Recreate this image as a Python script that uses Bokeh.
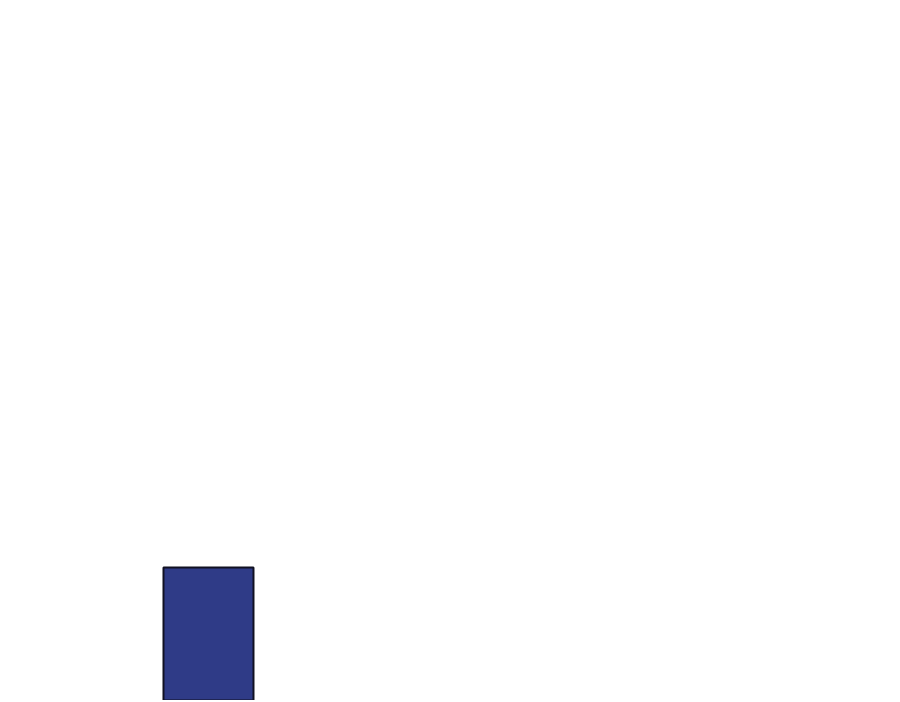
from bokeh.plotting import figure
from bokeh.models import Range1d
from bokeh.embed import file_html
from bokeh.resources import INLINE

categories = ["A"]
values = [2.0]
xs = [0]

p = figure(width=884, height=700, output_backend="svg", toolbar_location=None,
           x_range=Range1d(-2.311, 7.511), y_range=Range1d(0.5, 8.395),
           min_border=0)
p.axis.visible = False
p.grid.visible = False
p.outline_line_color = None
p.background_fill_color = "white"
p.border_fill_color = "white"

p.vbar(x=xs, top=values, bottom=0, width=1.0, fill_color="#2f3b87",
       line_color="#111122", line_width=2)

open("out.html", "w").write(file_html(p, INLINE))
